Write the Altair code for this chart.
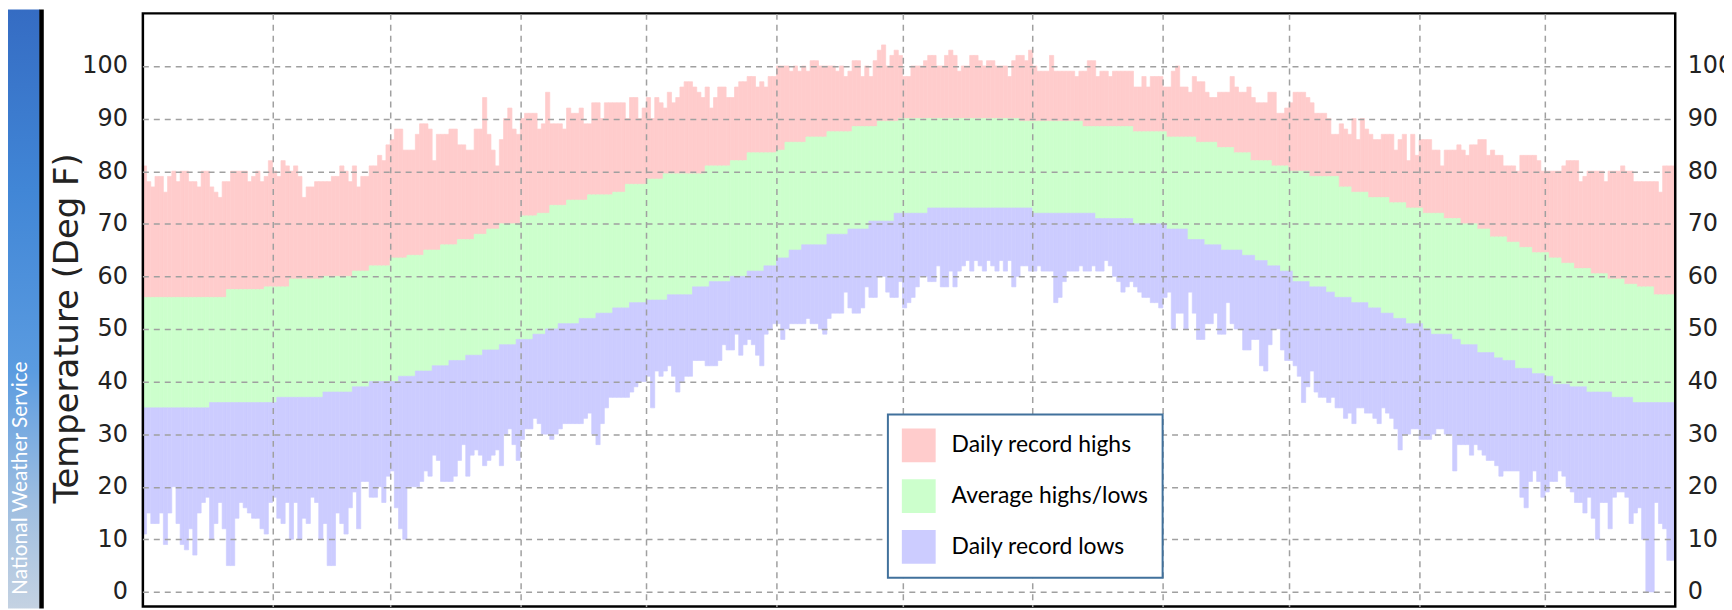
import altair as alt
import pandas as pd

# ---------------- data ----------------
month_starts = [0, 31, 59, 90, 120, 151, 181, 212, 243, 273, 304, 334, 365]
grid_days = month_starts[1:-1]
y_ticks = [0, 10, 20, 30, 40, 50, 60, 70, 80, 90, 100]

series_names = ["Daily record highs", "Average highs/lows", "Daily record lows"]
series_colors = ["#ffcccc", "#ccffcc", "#ccccff"]

# daily record highs (deg F), one list per month
rh_jan = [81, 78, 77, 79, 79, 76, 79, 80, 78, 80, 80, 78, 78, 77, 80, 80, 77, 76, 75, 78,
          78, 80, 80, 80, 80, 78, 79, 80, 78, 79, 82]
rh_feb = [80, 79, 82, 81, 80, 81, 79, 75, 77, 77, 78, 78, 78, 78, 79, 79, 81, 80, 78,
          81, 77, 79, 79, 81, 81, 83, 82, 85]
rh_mar = [86, 88, 88, 84, 84, 84, 87, 89, 89, 88, 82, 87, 87, 87, 88, 88, 85, 85, 84, 84,
          88, 88, 94, 87, 84, 81, 86, 90, 92, 88, 87]
rh_apr = [90, 91, 91, 91, 88, 89, 95, 89, 89, 89, 88, 92, 91, 91, 92, 89, 89, 93, 93, 90,
          93, 93, 93, 93, 93, 90, 94, 94, 90, 92]
rh_may = [94, 90, 94, 93, 92, 95, 93, 94, 96, 97, 97, 96, 95, 94, 96, 92, 94, 96, 96, 94,
          94, 96, 97, 97, 98, 98, 96, 97, 96, 98, 98]
rh_jun = [100, 100, 100, 99, 100, 99, 100, 99, 101, 101, 100, 100, 100, 100, 99, 100, 98, 99, 101, 101,
          98, 100, 98, 101, 103, 104, 100, 102, 103, 102]
rh_jul = [98, 98, 100, 100, 100, 101, 102, 102, 100, 100, 102, 103, 102, 99, 100, 100, 102, 102, 101, 100,
          101, 101, 100, 100, 100, 98, 101, 102, 102, 101, 103]
rh_aug = [100, 99, 99, 99, 102, 99, 99, 99, 99, 99, 98, 99, 99, 101, 101, 98, 99, 99, 98, 99,
          99, 99, 99, 99, 96, 96, 98, 96, 98, 98, 98]
rh_sep = [96, 96, 99, 100, 96, 96, 95, 98, 97, 97, 95, 94, 94, 95, 95, 95, 98, 96, 95, 95,
          96, 94, 93, 93, 93, 95, 95, 91, 91, 92]
rh_oct = [93, 95, 95, 95, 94, 93, 91, 91, 91, 90, 87, 87, 89, 88, 87, 90, 86, 90, 88, 87,
          86, 86, 87, 87, 87, 84, 86, 87, 82, 87, 83]
rh_nov = [86, 86, 86, 84, 84, 81, 84, 84, 84, 85, 84, 83, 85, 85, 86, 86, 83, 84, 83, 83,
          81, 81, 81, 80, 83, 83, 83, 83, 82, 80]
rh_dec = [80, 80, 80, 80, 81, 82, 82, 82, 78, 79, 80, 80, 80, 80, 78, 80, 80, 80, 81, 80,
          80, 78, 78, 78, 78, 78, 78, 76, 81, 81, 81]

# daily record lows (deg F), one list per month
rl_jan = [11, 15, 13, 13, 15, 9, 15, 20, 13, 9, 8, 12, 7, 15, 17, 18, 10, 13, 17, 12,
          5, 5, 14, 17, 16, 15, 14, 14, 12, 11, 17]
rl_feb = [18, 14, 13, 17, 10, 17, 10, 14, 13, 18, 17, 10, 13, 5, 5, 15, 13, 11, 16,
          19, 12, 21, 21, 18, 18, 20, 17, 22]
rl_mar = [23, 16, 12, 10, 20, 20, 20, 21, 23, 22, 26, 25, 21, 21, 21, 22, 25, 28, 22, 26,
          27, 26, 24, 25, 26, 27, 24, 30, 31, 28, 25]
rl_apr = [29, 31, 31, 33, 32, 30, 30, 29, 30, 31, 32, 32, 32, 32, 32, 33, 34, 30, 28, 32,
          35, 37, 37, 37, 37, 37, 38, 39, 40, 40]
rl_may = [41, 35, 42, 41, 42, 43, 41, 38, 40, 41, 41, 44, 44, 44, 43, 43, 43, 44, 47, 46,
          46, 49, 45, 47, 48, 47, 45, 43, 49, 50, 51]
rl_jun = [51, 48, 50, 51, 51, 51, 51, 52, 51, 51, 50, 49, 52, 53, 53, 53, 57, 54, 53, 53,
          54, 58, 56, 56, 60, 60, 57, 56, 56, 59]
rl_jul = [54, 55, 56, 58, 60, 60, 59, 59, 62, 58, 58, 61, 58, 61, 62, 63, 61, 63, 62, 61,
          63, 62, 61, 63, 61, 63, 58, 60, 62, 62, 61]
rl_aug = [61, 62, 61, 61, 61, 55, 56, 59, 61, 61, 61, 62, 61, 61, 62, 61, 61, 63, 62, 60,
          59, 57, 58, 59, 58, 57, 56, 56, 55, 55, 54]
rl_sep = [56, 57, 50, 53, 53, 50, 57, 53, 48, 48, 51, 51, 53, 49, 49, 55, 51, 50, 50, 46,
          46, 48, 48, 43, 42, 47, 50, 50, 46, 44]
rl_oct = [44, 43, 41, 36, 39, 42, 38, 37, 37, 36, 37, 35, 35, 33, 34, 32, 35, 35, 34, 34,
          33, 32, 35, 34, 33, 31, 27, 30, 30, 31, 31]
rl_nov = [29, 29, 29, 30, 31, 31, 30, 30, 23, 28, 28, 28, 26, 28, 27, 26, 25, 25, 24, 22,
          23, 23, 23, 23, 18, 16, 21, 23, 21, 18]
rl_dec = [19, 21, 21, 23, 22, 20, 19, 17, 17, 15, 18, 14, 10, 17, 17, 12, 18, 19, 19, 18,
          13, 15, 16, 10, 0, 0, 17, 13, 12, 6, 6]

# average highs / lows as (value, number of days) steps, Jan 1 -> Dec 31
avg_high_runs = [(56, 20), (57.5, 9), (58, 6), (59.5, 8), (60, 7), (61, 4), (62, 5), (63.5, 4),
                 (64, 4), (65, 4), (66, 4), (67, 4), (68, 3), (69, 3), (70, 5), (71.5, 4), (72, 3),
                 (73.5, 4), (74.5, 5), (75.5, 6), (76, 3), (77.5, 5), (78.5, 4), (79.5, 10), (81, 6),
                 (82, 4), (83.5, 7), (84, 2), (85.5, 5), (86.5, 5), (87.5, 6), (88.5, 6), (89.5, 5),
                 (90, 29), (89.5, 15), (88.5, 12), (87.5, 8), (86.5, 7), (85.5, 5), (84.5, 4),
                 (83.5, 4), (82, 5), (81, 4), (80, 5), (79, 7), (77, 3), (76, 4), (75, 5), (74, 4),
                 (73, 4), (72, 5), (71, 4), (70, 4), (69, 3), (67.5, 4), (66.5, 3), (65.5, 3),
                 (64.5, 4), (63.5, 3), (62.5, 3), (61.5, 4), (60.5, 4), (59.5, 4), (58.5, 3),
                 (58, 4), (56.5, 5)]
avg_low_runs = [(35, 16), (36, 16), (37, 11), (38, 7), (39, 4), (40, 7), (41, 4), (42, 4), (43, 4),
                (44, 4), (45, 4), (46, 4), (47, 4), (48, 4), (49, 3), (50, 3), (51, 5), (52, 4),
                (53, 4), (54, 4), (55, 4), (55.5, 5), (56.5, 6), (58, 4), (59, 5), (60, 4), (61, 4),
                (62, 3), (63.5, 3), (65, 3), (66, 6), (68, 5), (69, 5), (70.5, 6), (72, 8), (73, 25),
                (72, 15), (71, 9), (70, 8), (69, 5), (67, 4), (66, 4), (65, 5), (64, 3), (63, 3),
                (62, 3), (61, 3), (59, 4), (58, 4), (57, 2), (56, 4), (55, 4), (54, 3), (53, 3),
                (52, 3), (51, 4), (50, 2), (49, 5), (48, 2), (47, 4), (45.5, 4), (44.5, 2), (44, 3),
                (42.5, 4), (41.5, 3), (41, 2), (39.5, 4), (39, 4), (38, 6), (37, 5), (36, 10)]

# ---------------- assemble ----------------
rec_high = (rh_jan + rh_feb + rh_mar + rh_apr + rh_may + rh_jun +
            rh_jul + rh_aug + rh_sep + rh_oct + rh_nov + rh_dec)
rec_low = (rl_jan + rl_feb + rl_mar + rl_apr + rl_may + rl_jun +
           rl_jul + rl_aug + rl_sep + rl_oct + rl_nov + rl_dec)
avg_high = [v for v, n in avg_high_runs for _ in range(n)]
avg_low = [v for v, n in avg_low_runs for _ in range(n)]

n_days = min(len(rec_high), len(rec_low), len(avg_high), len(avg_low))
rows = []
for d in range(n_days):
    rows.append({"day": d, "day_end": d + 1, "series": series_names[0],
                 "lo": avg_high[d], "hi": rec_high[d]})
    rows.append({"day": d, "day_end": d + 1, "series": series_names[1],
                 "lo": avg_low[d], "hi": avg_high[d]})
    rows.append({"day": d, "day_end": d + 1, "series": series_names[2],
                 "lo": rec_low[d], "hi": avg_low[d]})
df = pd.DataFrame(rows)
deco = pd.DataFrame({"k": [0]})
ticks_df = pd.DataFrame({"t": y_ticks})

W, H = 1540, 596
x_scale = alt.Scale(domain=[0, 365], nice=False, zero=False)
y_scale = alt.Scale(domain=[-2.8, 110], nice=False, zero=False)
color_scale = alt.Scale(domain=series_names, range=series_colors)

label_style = dict(labelFont="DejaVu Sans", labelFontSize=24, labelColor="#222222")
grid_style = dict(grid=True, gridColor="#a0a0a0", gridDash=[6, 5], gridWidth=1.5, gridOpacity=1)

bars = alt.Chart(df).mark_rect(strokeWidth=0.7).encode(
    x=alt.X("day:Q", scale=x_scale,
            axis=alt.Axis(orient="bottom", values=grid_days, labels=False, ticks=False,
                          domain=False, title=None, zindex=1, **grid_style)),
    x2="day_end:Q",
    y=alt.Y("lo:Q", scale=y_scale,
            axis=alt.Axis(orient="left", values=y_ticks, domain=False, ticks=False,
                          labelPadding=15, title="Temperature (Deg F)",
                          titleFont="DejaVu Sans", titleFontSize=34, titleFontWeight="normal",
                          titleColor="#222222", titleAngle=270, titleAlign="center",
                          titleBaseline="alphabetic", titleX=-65, titleY=316, zindex=1,
                          **grid_style, **label_style)),
    y2="hi:Q",
    color=alt.Color("series:N", sort=series_names, scale=color_scale,
                    legend=alt.Legend(title=None, orient="none", legendX=749, legendY=403,
                                      direction="vertical", symbolType="square",
                                      symbolSize=1156, symbolStrokeWidth=0, symbolOpacity=1,
                                      labelFont="Lato", labelFontSize=23, labelColor="#000000",
                                      labelOffset=16, labelLimit=400, rowPadding=17,
                                      padding=14, strokeColor="#41719c", fillColor="white",
                                      zindex=2)),
    stroke=alt.Stroke("series:N", sort=series_names, scale=color_scale, legend=None),
)

right_axis = alt.Chart(ticks_df).mark_point(opacity=0).encode(
    y=alt.Y("t:Q", scale=y_scale,
            axis=alt.Axis(orient="right", values=y_ticks, grid=False, domain=False, ticks=False,
                          labelPadding=12, title=None, **label_style))
)

strip_fill = alt.Gradient(
    gradient="linear",
    stops=[alt.GradientStop(color="#356cc3", offset=0),
           alt.GradientStop(color="#4186d6", offset=0.3),
           alt.GradientStop(color="#5a9be0", offset=0.6),
           alt.GradientStop(color="#9dbde0", offset=0.82),
           alt.GradientStop(color="#c4d2e2", offset=1)],
    x1=0, x2=0, y1=0, y2=1,
)
strip = alt.Chart(deco).mark_rect(fill=strip_fill, strokeWidth=0).encode(
    x=alt.value(-135), x2=alt.value(-103), y=alt.value(-4), y2=alt.value(598))
panel_edge = alt.Chart(deco).mark_rule(color="black", strokeWidth=4.5).encode(
    x=alt.value(-101.3), y=alt.value(-4), y2=alt.value(598))
nws = alt.Chart(deco).mark_text(text="National Weather Service", font="Lato", fontSize=21,
                                color="white", angle=270, align="center",
                                baseline="middle").encode(
    x=alt.value(-122), y=alt.value(467))
frame = alt.Chart(deco).mark_rect(filled=False, stroke="black", strokeWidth=2.5).encode(
    x=alt.value(0.5), x2=alt.value(W), y=alt.value(0), y2=alt.value(H))

chart = alt.layer(strip, panel_edge, nws, bars, right_axis, frame).resolve_axis(
    y="independent"
).properties(
    width=W, height=H,
    autosize=alt.AutoSizeParams(type="none"),
    padding={"left": 135, "top": 4, "right": 49, "bottom": 2},
).configure(background="white").configure_view(strokeWidth=0).configure_legend(strokeWidth=2)

chart.save("out.html", embed_options={"renderer": "svg", "actions": False})
